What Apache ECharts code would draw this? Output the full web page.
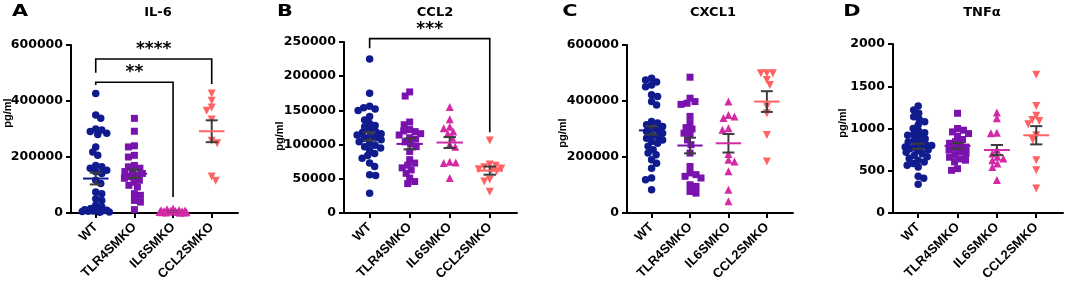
<!DOCTYPE html>
<html>
<head>
<meta charset="utf-8">
<script src="https://cdn.jsdelivr.net/npm/echarts@6/dist/echarts.min.js"></script>
<style>html,body{margin:0;padding:0;background:#fff}#chart{width:1065px;height:283px}</style>
</head>
<body>
<div id="chart"></div>
<script>
// ---------- DATA ----------
const categories = ['WT', 'TLR4SMKO', 'IL6SMKO', 'CCL2SMKO'];
const panelLetters = ['A', 'B', 'C', 'D'];
const panelTitles = ['IL-6', 'CCL2', 'CXCL1', 'TNFα'];
const yAxisName = 'pg/ml';
const yMax = [600000, 250000, 600000, 2000];
const yInterval = [200000, 50000, 200000, 500];

// IL-6
const il6_WT = [427000, 350000, 338000, 300000, 296000, 291000, 285000, 280000, 236000, 218000, 206000, 170000, 165000, 160000, 153000, 147000, 141000, 117000, 105000, 75000, 69000, 51000, 45000, 28000, 22000, 16000, 12000, 10000, 9000, 8000, 7000, 6000, 5000, 4000, 3000];
const il6_TLR4 = [338000, 292000, 240000, 236000, 206000, 200000, 170000, 165000, 160000, 150000, 148000, 141000, 135000, 130000, 124000, 117000, 110000, 99000, 93000, 69000, 63000, 45000, 39000, 12000];
const il6_IL6 = [16000, 13000, 11000, 10000, 9000, 8000, 7000, 7000, 6000, 5000, 5000, 4000, 4000, 3000, 3000, 2000, 2000, 1000];
const il6_CCL2 = [427000, 401000, 377000, 365000, 334000, 258000, 249000, 130000, 115000];
const il6_mean = [123000, 140000, 5000, 292000];
const il6_sem = [21000, 15000, 1500, 39000];

// CCL2
const ccl2_WT = [225000, 175000, 156000, 154000, 152000, 150000, 141000, 136000, 131000, 128000, 126000, 121000, 119000, 118000, 116000, 114000, 112000, 110000, 109000, 107000, 104000, 102000, 99000, 97000, 95000, 92000, 87000, 84000, 80000, 73000, 68000, 56000, 55000, 29000];
const ccl2_TLR4 = [177000, 171000, 133000, 129000, 122000, 120000, 119000, 116000, 114000, 110000, 108000, 104000, 101000, 97000, 90000, 78000, 73000, 70000, 66000, 63000, 58000, 51000, 46000, 43000];
const ccl2_IL6 = [155000, 137000, 126000, 124000, 119000, 116000, 110000, 100000, 97000, 75000, 74000, 73000, 51000];
const ccl2_CCL2 = [106000, 71000, 69000, 67000, 65000, 64000, 63000, 61000, 49000, 46000, 31000];
const ccl2_mean = [112000, 101000, 103000, 62000];
const ccl2_sem = [6000, 8000, 8000, 6000];

// CXCL1
const cxcl1_WT = [481000, 475000, 468000, 457000, 451000, 422000, 416000, 398000, 386000, 327000, 321000, 315000, 309000, 303000, 297000, 291000, 285000, 279000, 273000, 267000, 261000, 255000, 249000, 238000, 226000, 214000, 208000, 190000, 178000, 160000, 125000, 119000, 83000];
const cxcl1_TLR4 = [485000, 410000, 398000, 392000, 388000, 345000, 321000, 305000, 300000, 285000, 280000, 261000, 244000, 214000, 166000, 143000, 137000, 131000, 125000, 101000, 95000, 77000, 71000];
const cxcl1_IL6 = [398000, 350000, 345000, 339000, 303000, 297000, 211000, 190000, 184000, 149000, 83000, 42000];
const cxcl1_CCL2 = [499000, 499000, 499000, 475000, 457000, 380000, 356000, 279000, 184000];
const cxcl1_mean = [295000, 241000, 249000, 398000];
const cxcl1_sem = [15000, 28000, 33000, 37000];

// TNFa
const tnf_WT = [1267, 1220, 1180, 1140, 1110, 1080, 1040, 1000, 970, 950, 930, 920, 900, 880, 860, 840, 830, 810, 800, 790, 780, 770, 760, 750, 740, 720, 700, 680, 665, 645, 625, 605, 585, 565, 545, 435, 410, 340];
const tnf_TLR4 = [1180, 1000, 980, 960, 940, 910, 870, 845, 825, 800, 780, 765, 745, 725, 705, 685, 660, 640, 625, 605, 525, 505];
const tnf_IL6 = [1190, 1120, 950, 945, 750, 705, 665, 645, 625, 585, 545, 390];
const tnf_CCL2 = [1635, 1267, 1150, 1100, 1090, 1050, 920, 865, 625, 505, 290];
const tnf_mean = [790, 795, 745, 920];
const tnf_sem = [30, 35, 60, 108];

// Significance brackets: [fromGroup, toGroup, topY, leftLegBottomY, rightLegBottomY, starsY], label
const il6_brackets = [[0, 3, 550000, 501000, 461000, 582000], [0, 2, 467000, 457000, 57000, 500000]];
const il6_bracketLabels = ['****', '**'];
const ccl2_brackets = [[0, 3, 255000, 241000, 118000, 268000]];
const ccl2_bracketLabels = ['***'];

const panels = [
  { groups: [il6_WT, il6_TLR4, il6_IL6, il6_CCL2], mean: il6_mean, sem: il6_sem, br: il6_brackets, brl: il6_bracketLabels },
  { groups: [ccl2_WT, ccl2_TLR4, ccl2_IL6, ccl2_CCL2], mean: ccl2_mean, sem: ccl2_sem, br: ccl2_brackets, brl: ccl2_bracketLabels },
  { groups: [cxcl1_WT, cxcl1_TLR4, cxcl1_IL6, cxcl1_CCL2], mean: cxcl1_mean, sem: cxcl1_sem, br: [], brl: [] },
  { groups: [tnf_WT, tnf_TLR4, tnf_IL6, tnf_CCL2], mean: tnf_mean, sem: tnf_sem, br: [], brl: [] }
];

// ---------- LAYOUT / STYLE ----------
const colors = ['#101c8e', '#7a12ae', '#d42aa6', '#ff6262'];
const symbols = ['circle', 'rect', 'triangle', 'triangle'];
const symbolRot = [0, 0, 0, 180];
const symbolSizes = [7.5, 7, 8, 8];
const X_MIN = -0.64, X_MAX = 3.68;
const layout = [
  { left: 71, top: 45, width: 167, height: 168, nameX: 8, nameY: 113, letterX: 20, titleX: 153 },
  { left: 344, top: 42, width: 173, height: 171, nameX: 280, nameY: 136, letterX: 285, titleX: 430 },
  { left: 627, top: 45, width: 166, height: 168, nameX: 563, nameY: 133, letterX: 570, titleX: 708 },
  { left: 893, top: 44, width: 170, height: 169, nameX: 843, nameY: 123, letterX: 852, titleX: 977 }
];

// deterministic beeswarm layout (pixel space) -> offsets in category units
function swarm(values, kY, kX) {
  const D = 5.8, maxOff = 13.5;
  const order = values.map((v, i) => i).sort((a, b) => values[b] - values[a]);
  const placed = [];
  const out = new Array(values.length);
  let flip = 1;
  for (const i of order) {
    const py = values[i] * kY;
    let best = 0, bestScore = -1, found = false;
    for (let step = 0; step <= maxOff * 2 && !found; step++) {
      const mag = step * 0.5;
      const signs = mag === 0 ? [1] : [flip, -flip];
      for (const sg of signs) {
        const dx = sg * mag;
        let minD = Infinity;
        for (const p of placed) {
          const d = Math.hypot(dx - p.x, py - p.y);
          if (d < minD) minD = d;
        }
        if (minD >= D) { best = dx; found = true; break; }
        if (minD > bestScore) { bestScore = minD; best = dx; }
      }
    }
    flip = -flip;
    placed.push({ x: best, y: py });
    out[i] = best / kX;
  }
  return out;
}

const grid = [], xAxis = [], yAxis = [], series = [], graphic = [], title = [];
const font = 'Liberation Sans';

panels.forEach((p, k) => {
  const L = layout[k];
  grid.push({ left: L.left, top: L.top, width: L.width, height: L.height, outerBoundsMode: 'none', containLabel: false });
  xAxis.push({
    type: 'value', gridIndex: k, min: X_MIN, max: X_MAX,
    axisLine: { show: true, onZero: false, lineStyle: { color: '#000', width: 2 } },
    axisTick: { show: true, customValues: [0, 1, 2, 3], length: 5, lineStyle: { color: '#000', width: 2 } },
    axisLabel: {
      customValues: [0, 1, 2, 3], formatter: v => categories[Math.round(v)] || '',
      rotate: 45, margin: 12, color: '#000', fontWeight: 'bold', fontSize: 13, fontFamily: font
    },
    splitLine: { show: false }
  });
  yAxis.push({
    type: 'value', gridIndex: k, min: 0, max: yMax[k], interval: yInterval[k],
    axisLine: { show: true, onZero: false, lineStyle: { color: '#000', width: 2 } },
    axisTick: { show: true, length: 5, lineStyle: { color: '#000', width: 2 } },
    axisLabel: { margin: 8, color: '#000', fontWeight: 'bold', fontSize: 12.5, fontFamily: 'DejaVu Sans', formatter: v => String(v) },
    splitLine: { show: false }
  });
  const kY = L.height / yMax[k];
  const kX = L.width / (X_MAX - X_MIN);
  p.groups.forEach((vals, g) => {
    const offs = swarm(vals, kY, kX);
    series.push({
      type: 'scatter', name: categories[g], xAxisIndex: k, yAxisIndex: k,
      symbol: symbols[g], symbolRotate: symbolRot[g], symbolSize: symbolSizes[g],
      itemStyle: { color: colors[g], opacity: 1 },
      data: vals.map((v, i) => [g + offs[i], v]),
      z: 2, silent: true
    });
  });
  // mean ± SEM
  series.push({
    type: 'custom', xAxisIndex: k, yAxisIndex: k, z: 5, silent: true, clip: false,
    data: p.mean.map((m, g) => [g, m, p.sem[g]]),
    renderItem: (params, api) => {
      const g = api.value(0), m = api.value(1), s = api.value(2);
      const c = api.coord([g, m]), t = api.coord([g, m + s]), b = api.coord([g, m - s]);
      const hm = api.size([0.33, 0])[0], hc = api.size([0.155, 0])[0];
      const ws = { stroke: '#3d3d3d', lineWidth: 2 };
      return {
        type: 'group', children: [
          { type: 'line', shape: { x1: t[0], y1: t[1], x2: b[0], y2: b[1] }, style: ws },
          { type: 'line', shape: { x1: t[0] - hc, y1: t[1], x2: t[0] + hc, y2: t[1] }, style: ws },
          { type: 'line', shape: { x1: b[0] - hc, y1: b[1], x2: b[0] + hc, y2: b[1] }, style: ws },
          { type: 'line', shape: { x1: c[0] - hm, y1: c[1], x2: c[0] + hm, y2: c[1] }, style: { stroke: colors[g], lineWidth: 2 } }
        ]
      };
    }
  });
  if (p.br.length) {
    series.push({
      type: 'custom', xAxisIndex: k, yAxisIndex: k, z: 6, silent: true, clip: false,
      data: p.br,
      renderItem: (params, api) => {
        const x1 = api.value(0), x2 = api.value(1), top = api.value(2), lb = api.value(3), rb = api.value(4), sy = api.value(5);
        const a = api.coord([x1, lb]), b = api.coord([x1, top]), c = api.coord([x2, top]), d = api.coord([x2, rb]);
        const st = api.coord([(x1 + x2) / 2, sy]);
        return {
          type: 'group', children: [
            { type: 'polyline', shape: { points: [a, b, c, d] }, style: { stroke: '#000', lineWidth: 1.6, fill: null } },
            { type: 'text', x: st[0], y: st[1], style: { text: p.brl[params.dataIndex], fill: '#000', fontSize: 17, fontWeight: 'bold', fontFamily: 'DejaVu Sans', align: 'center', verticalAlign: 'middle' } }
          ]
        };
      }
    });
  }
  title.push({
    text: panelTitles[k], left: L.titleX, top: 1, textAlign: 'center',
    textStyle: { color: '#000', fontSize: 13, fontWeight: 'bold', fontFamily: 'DejaVu Sans' }
  });
  graphic.push({
    type: 'text', x: L.letterX, y: 12, scaleX: 1.3, silent: true,
    style: { text: panelLetters[k], fill: '#000', fontSize: 16, fontWeight: 'bold', fontFamily: 'DejaVu Sans', align: 'center', verticalAlign: 'middle' }
  });
  graphic.push({
    type: 'text', x: L.nameX, y: L.nameY, rotation: Math.PI / 2, silent: true,
    style: { text: yAxisName, fill: '#000', fontSize: 11, fontWeight: 'bold', fontFamily: font, align: 'center', verticalAlign: 'middle' }
  });
});

const chart = echarts.init(document.getElementById('chart'), null, { renderer: 'canvas' });
chart.setOption({
  animation: false,
  backgroundColor: '#fff',
  title, grid, xAxis, yAxis, series, graphic
});
</script>
</body>
</html>
